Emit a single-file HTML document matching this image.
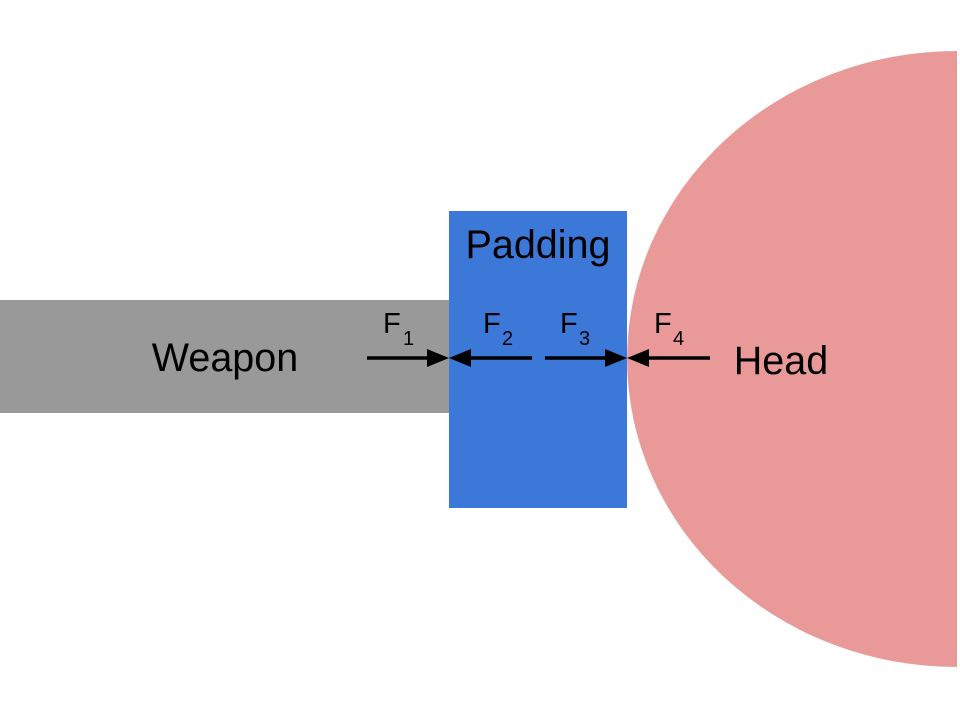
<!DOCTYPE html>
<html><head><style>body{margin:0;background:#fff}</style></head><body>
<svg width="960" height="720" viewBox="0 0 960 720" xmlns="http://www.w3.org/2000/svg" font-family="Liberation Sans, sans-serif">
<rect width="960" height="720" fill="#fff"/>
<path d="M957,51 A330,308 0 0 0 957,667 Z" fill="#ea9999"/>
<rect x="0" y="300" width="449" height="113" fill="#999999"/>
<rect x="449" y="211" width="178" height="297" fill="#3c78d8"/>
<text x="225" y="371" font-size="39.5" text-anchor="middle">Weapon</text>
<text x="538" y="258" font-size="39.5" text-anchor="middle">Padding</text>
<text x="781" y="374" font-size="39.5" text-anchor="middle">Head</text>
<g stroke="#000" stroke-width="3.5">
<line x1="367" y1="358" x2="430" y2="358"/>
<line x1="468" y1="358" x2="532" y2="358"/>
<line x1="545" y1="358" x2="608" y2="358"/>
<line x1="646" y1="358" x2="710" y2="358"/>
</g>
<g fill="#000">
<polygon points="449,358 427,349 427,367"/>
<polygon points="449,358 471,349 471,367"/>
<polygon points="627,358 605,349 605,367"/>
<polygon points="627,358 649,349 649,367"/>
</g>
<g font-size="29">
<text x="383" y="333">F</text><text x="403" y="345" font-size="20">1</text>
<text x="483" y="333">F</text><text x="502" y="345" font-size="20">2</text>
<text x="560" y="333">F</text><text x="579" y="345" font-size="20">3</text>
<text x="654" y="333">F</text><text x="673" y="345" font-size="20">4</text>
</g>
</svg>
</body></html>
